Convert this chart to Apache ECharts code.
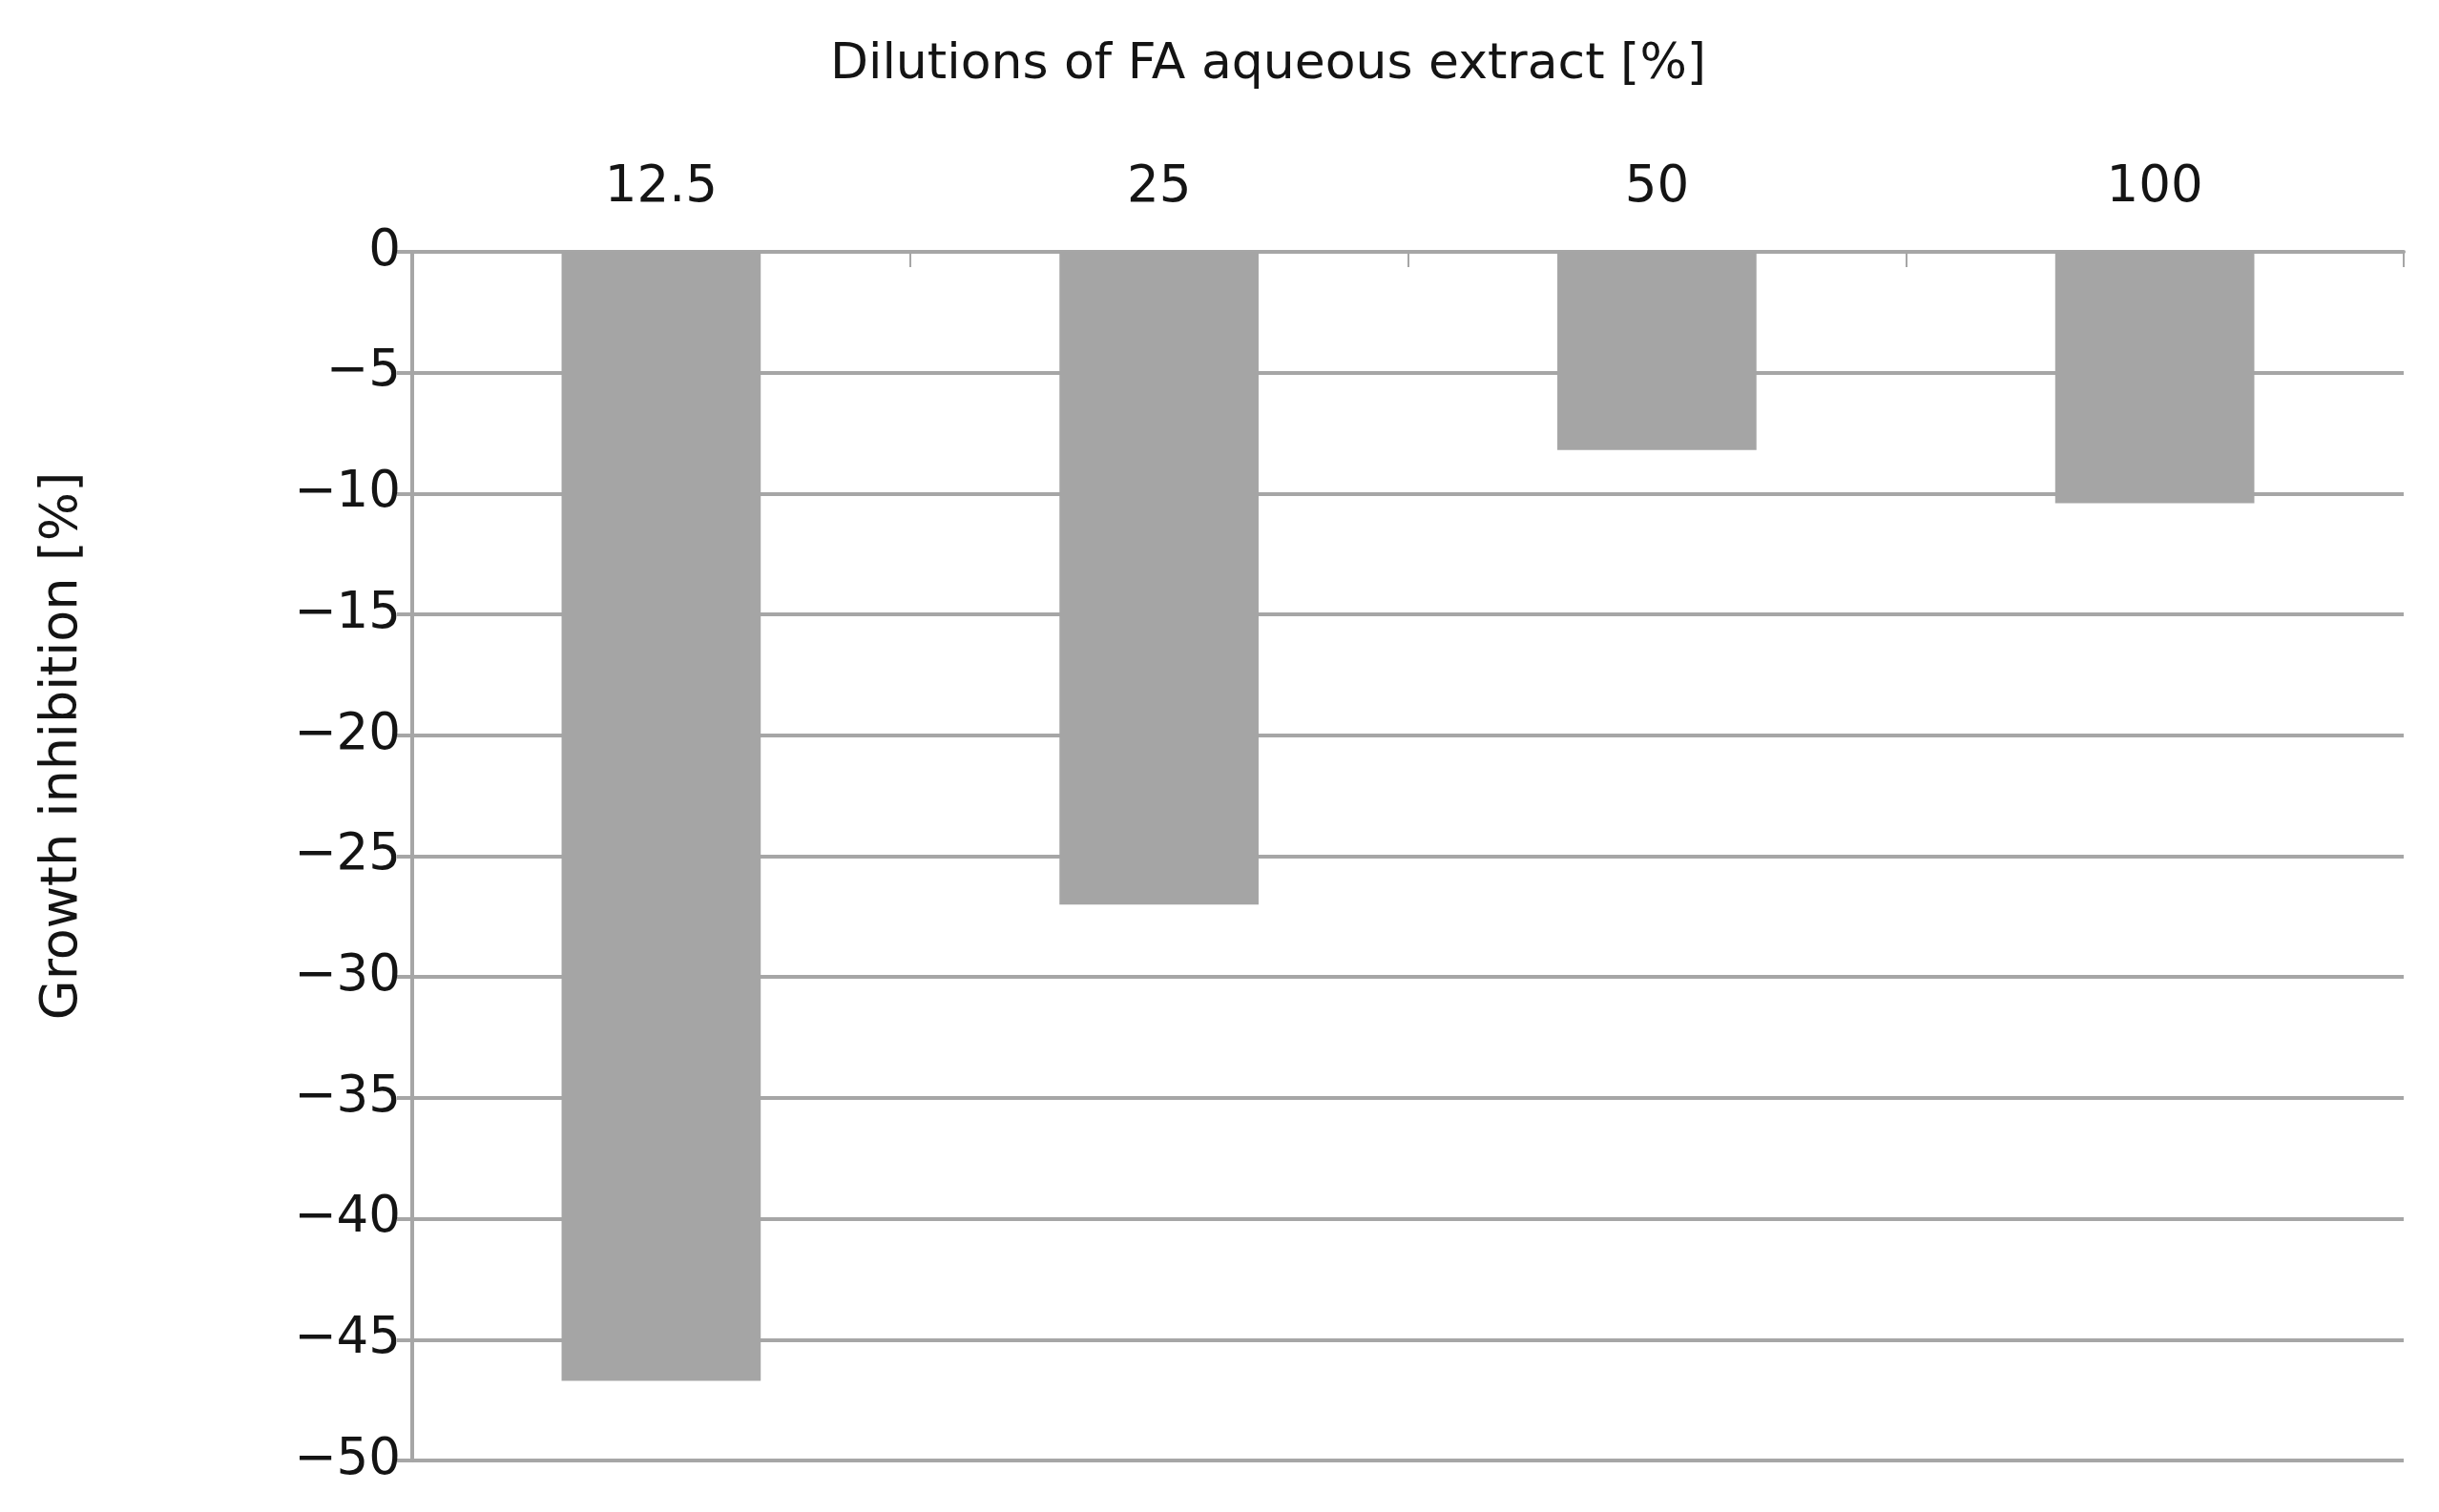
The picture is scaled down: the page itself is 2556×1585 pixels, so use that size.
<!DOCTYPE html>
<html>
<head>
<meta charset="utf-8">
<script src="https://cdn.jsdelivr.net/npm/echarts@6/dist/echarts.min.js"></script>
<style>
html,body{margin:0;padding:0;background:#fff;}
#chart{width:2556px;height:1585px;}
</style>
</head>
<body>
<div id="chart"></div>
<script>
const categories = ['12.5', '25', '50', '100'];
const growthInhibition = [-46.7, -27.0, -8.2, -10.4];
const xTitle = 'Dilutions of FA aqueous extract [%]';
const yTitle = 'Growth inhibition [%]';
const yMin = -50, yMax = 0, yStep = 5;

const FONT = '"DejaVu Sans", sans-serif';
const GRID = '#a6a6a6';
const TEXT = '#141414';

const chart = echarts.init(document.getElementById('chart'), null, {renderer: 'canvas'});
chart.setOption({
  backgroundColor: '#ffffff',
  animation: false,
  grid: {left: 432, right: 37, top: 264, bottom: 54, containLabel: false},
  xAxis: {
    type: 'category',
    position: 'top',
    data: categories,
    boundaryGap: true,
    axisLine: {show: true, onZero: false, lineStyle: {color: GRID, width: 4}},
    axisTick: {show: true, inside: true, length: 16, lineStyle: {color: GRID, width: 2}},
    axisLabel: {color: TEXT, fontFamily: FONT, fontSize: 53, margin: 40}
  },
  yAxis: {
    type: 'value',
    min: yMin, max: yMax, interval: yStep,
    axisLine: {show: true, lineStyle: {color: GRID, width: 4}},
    axisTick: {show: true, length: 16, lineStyle: {color: GRID, width: 4}},
    splitLine: {show: true, lineStyle: {color: GRID, width: 4}},
    axisLabel: {
      color: TEXT, fontFamily: FONT, fontSize: 53, margin: 12,
      formatter: v => String(v).replace('-', '\u2212')
    }
  },
  series: [{
    type: 'bar',
    data: growthInhibition,
    barWidth: '40%',
    itemStyle: {color: '#a5a5a5'}
  }],
  graphic: [
    {
      type: 'text', x: 1329, y: 68,
      style: {text: xTitle, font: '500 52px ' + FONT, fill: TEXT, textAlign: 'center', textVerticalAlign: 'middle'}
    },
    {
      type: 'text', x: 66, y: 782, rotation: Math.PI / 2,
      style: {text: yTitle, font: '54px ' + FONT, fill: TEXT, textAlign: 'center', textVerticalAlign: 'middle'}
    }
  ]
});
</script>
</body>
</html>
